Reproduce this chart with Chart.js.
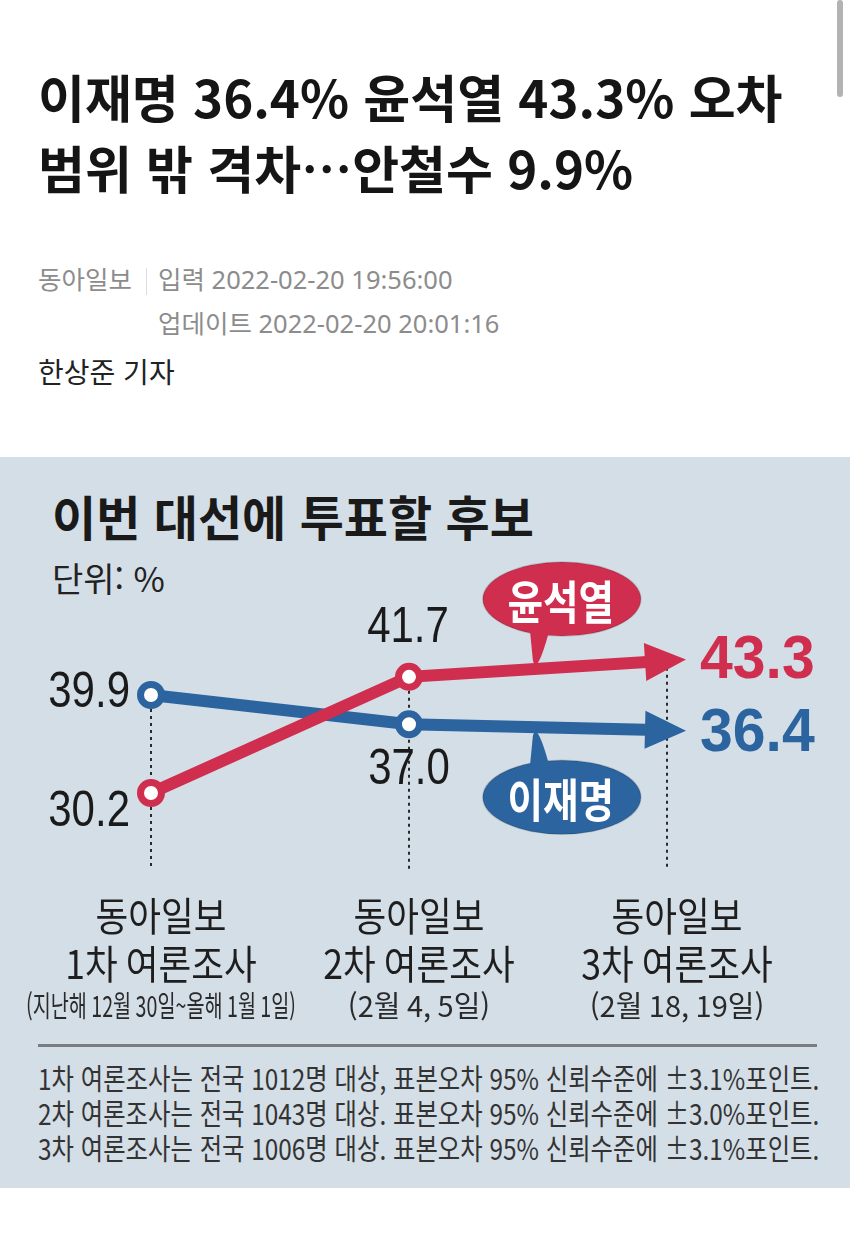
<!DOCTYPE html>
<html lang="ko">
<head>
<meta charset="utf-8">
<script src="https://cdn.jsdelivr.net/npm/chart.js@4.4.1/dist/chart.umd.min.js"></script>
<style>
  body { margin: 0; width: 850px; height: 1259px; background: #fff; position: relative; overflow: hidden;
         font-family: "Noto Sans CJK KR", "Noto Sans", sans-serif; }
  .abs { position: absolute; white-space: nowrap; line-height: 1; }
  .headline { left: 38px; font-size: 51px; font-weight: 700; color: #151515; letter-spacing: 0; }
  .meta { font-size: 25.5px; color: #8c8c8c; font-family: "Noto Sans", "Noto Sans CJK KR", sans-serif; }
  #scroll { position: absolute; left: 837px; top: 0; width: 6px; height: 97px; background: #b3b3b3; border-radius: 3px; }
  #panel { position: absolute; left: 0; top: 457px; width: 850px; height: 731px; background: #d4dee7; }
  #titre { left: 52px; top: 491px; font-size: 48px; font-weight: 700; color: #1a1a1a; }
  #unite { left: 52px; top: 561px; font-size: 34px; color: #222; }
  #trait { position: absolute; left: 38px; top: 1044px; width: 779px; height: 3px; background: #7a7e83; }
  .note { left: 38px; font-size: 29px; color: #333; transform: scaleX(0.84); transform-origin: left top; }
  #graph { position: absolute; left: 0; top: 457px; }
</style>
</head>
<body>
<div id="scroll"></div>
<div class="abs headline" style="top:71px">이재명 36.4% 윤석열 43.3% 오차</div>
<div class="abs headline" style="top:142px">범위 밖 격차…안철수 9.9%</div>

<div class="abs meta" style="left:38px; top:267px">동아일보</div>
<div style="position:absolute; left:146px; top:268px; width:1px; height:27px; background:#ddd"></div>
<div class="abs meta" style="left:158px; top:267px">입력 2022-02-20 19:56:00</div>
<div class="abs meta" style="left:158px; top:311px">업데이트 2022-02-20 20:01:16</div>
<div class="abs" style="left:38px; top:357px; font-size:28px; color:#222">한상준 기자</div>

<div id="panel"></div>
<div class="abs" id="titre">이번 대선에 투표할 후보</div>
<div class="abs" id="unite">단위: %</div>
<div id="trait"></div>
<div class="abs note" style="top:1063px">1차 여론조사는 전국 1012명 대상, 표본오차 95% 신뢰수준에 ±3.1%포인트.</div>
<div class="abs note" style="top:1098px">2차 여론조사는 전국 1043명 대상. 표본오차 95% 신뢰수준에 ±3.0%포인트.</div>
<div class="abs note" style="top:1133px">3차 여론조사는 전국 1006명 대상. 표본오차 95% 신뢰수준에 ±3.1%포인트.</div>

<canvas id="graph" width="850" height="731"></canvas>

<script>
'use strict';
//les trois sondages (catégories)
const sondages = ['1차', '2차', '3차'];
const lignesJournal = ['동아일보', '동아일보', '동아일보'];
const lignesRonde = ['1차 여론조사', '2차 여론조사', '3차 여론조사'];
const lignesDate = ['(지난해 12월 30일~올해 1월 1일)', '(2월 4, 5일)', '(2월 18, 19일)'];

//valeurs en %
const nomYoon = '윤석열';
const valeursYoon = [30.2, 41.7, 43.3];
const nomLee = '이재명';
const valeursLee = [39.9, 37.0, 36.4];

const rouge = '#cf2e4e';
const bleu = '#2c64a0';
const KR = '"Noto Sans CJK KR", sans-serif';
const NUM = '"Liberation Sans", Arial, sans-serif';

//texte condensé horizontalement
function texteSerre(ctx, txt, x, y, police, couleur, align, sx, maxW) {
  ctx.save();
  ctx.font = police;
  ctx.fillStyle = couleur;
  ctx.textAlign = align;
  ctx.textBaseline = 'middle';
  ctx.translate(x, y);
  ctx.scale(sx, 1);
  if (maxW) ctx.fillText(txt, 0, 0, maxW / sx);
  else ctx.fillText(txt, 0, 0);
  ctx.restore();
}

//pointillés verticaux sous chaque sondage
const pointilles = {
  id: 'pointilles',
  beforeDatasetsDraw(chart) {
    const ctx = chart.ctx;
    const bas = chart.chartArea.bottom + 24;
    sondages.forEach((s, i) => {
      const ys = chart.getSortedVisibleDatasetMetas().map(m => m.data[i].y);
      const x = chart.scales.x.getPixelForValue(i);
      ctx.save();
      ctx.strokeStyle = '#2a2a2a';
      ctx.lineWidth = 2;
      ctx.setLineDash([3, 4]);
      ctx.beginPath();
      ctx.moveTo(x, Math.min(...ys));
      ctx.lineTo(x, bas);
      ctx.stroke();
      ctx.restore();
    });
  }
};

//flèches, étiquettes, bulles et libellés des sondages
const decor = {
  id: 'decor',
  afterDatasetsDraw(chart) {
    const ctx = chart.ctx;
    const metas = chart.getSortedVisibleDatasetMetas();

    metas.forEach(meta => {
      const ds = chart.data.datasets[meta.index];
      const pts = meta.data;
      const n = pts.length;
      const p1 = pts[n - 2], p2 = pts[n - 1];
      const L = Math.hypot(p2.x - p1.x, p2.y - p1.y);
      const dx = (p2.x - p1.x) / L, dy = (p2.y - p1.y) / L;
      //tête de flèche
      const tip = [p2.x + dx * 19, p2.y + dy * 19];
      const base = [p2.x - dx * 22, p2.y - dy * 22];
      const hw = 19;
      ctx.save();
      ctx.fillStyle = ds.borderColor;
      ctx.beginPath();
      ctx.moveTo(tip[0], tip[1]);
      ctx.lineTo(base[0] - dy * hw, base[1] + dx * hw);
      ctx.lineTo(base[0] + dy * hw, base[1] - dx * hw);
      ctx.closePath();
      ctx.fill();
      ctx.restore();

      //étiquettes de valeurs
      const place = ds.etiquettes;
      ds.data.forEach((v, i) => {
        const p = pts[i];
        const o = place[i];
        if (i === n - 1) {
          texteSerre(ctx, v.toFixed(1), p.x + o[0], p.y + o[1], 'bold 62px ' + NUM, ds.borderColor, 'left', 0.95);
        } else {
          texteSerre(ctx, v.toFixed(1), p.x + o[0], p.y + o[1], '400 50px ' + NUM, '#1a1a1a', o[2], 0.84);
        }
      });

      //bulle avec le nom
      const sens = ds.bulle; // -1 au-dessus, 1 en dessous
      const ax = p1.x + 0.48 * (p2.x - p1.x);
      const ay = p1.y + 0.48 * (p2.y - p1.y) + sens * 9;
      const cx = ax + 29, cy = ay + sens * 61;
      ctx.save();
      ctx.fillStyle = ds.borderColor;
      ctx.strokeStyle = 'rgba(0,0,0,0.15)';
      ctx.lineWidth = 1.5;
      ctx.beginPath();
      ctx.ellipse(cx, cy, 79, 37, 0, 0, Math.PI * 2);
      ctx.fill();
      ctx.stroke();
      ctx.beginPath();
      ctx.moveTo(ax - 4, cy - sens * 20);
      ctx.lineTo(ax + 18, cy - sens * 26);
      ctx.quadraticCurveTo(ax + 4, ay - sens * 18, ax, ay);
      ctx.closePath();
      ctx.fill();
      ctx.restore();
      texteSerre(ctx, ds.label, cx - 1, cy + 2, 'bold 46px ' + KR, '#fff', 'center', 0.84);
    });

    //libellés des sondages
    const bas = chart.chartArea.bottom;
    sondages.forEach((s, i) => {
      const x = chart.scales.x.getPixelForValue(i) + 10;
      texteSerre(ctx, lignesJournal[i], x, bas + 70, '400 40px ' + KR, '#1e1e1e', 'center', 0.89);
      texteSerre(ctx, lignesRonde[i], x, bas + 118, '400 40px ' + KR, '#1e1e1e', 'center', 0.89);
      texteSerre(ctx, lignesDate[i], x, bas + 160, '400 29px ' + KR, '#2a2a2a', 'center', 1.0, 270);
    });
  }
};

const graphique = new Chart(document.getElementById('graph').getContext('2d'), {
  type: 'line',
  data: {
    labels: sondages,
    datasets: [{
      label: nomYoon,
      data: valeursYoon,
      borderColor: rouge,
      pointBorderColor: rouge,
      etiquettes: [[-21, 19, 'right'], [-1, -49, 'center'], [33, 0]],
      bulle: -1
    }, {
      label: nomLee,
      data: valeursLee,
      borderColor: bleu,
      pointBorderColor: bleu,
      etiquettes: [[-21, -2, 'right'], [0, 46, 'center'], [33, 4]],
      bulle: 1
    }].map(d => Object.assign({
      borderWidth: 12,
      borderCapStyle: 'butt',
      tension: 0,
      clip: false,
      pointRadius: [10.5, 10.5, 0],
      pointBorderWidth: 7,
      pointBackgroundColor: '#fff',
      pointHoverRadius: 0
    }, d))
  },
  options: {
    responsive: false,
    animation: false,
    events: [],
    layout: { padding: { left: 151, right: 183, top: 136, bottom: 342.5 } },
    scales: {
      x: { display: false },
      y: { display: false, min: 25, max: 50 }
    },
    plugins: { legend: { display: false }, tooltip: { enabled: false } }
  },
  plugins: [pointilles, decor]
});
</script>
</body>
</html>
